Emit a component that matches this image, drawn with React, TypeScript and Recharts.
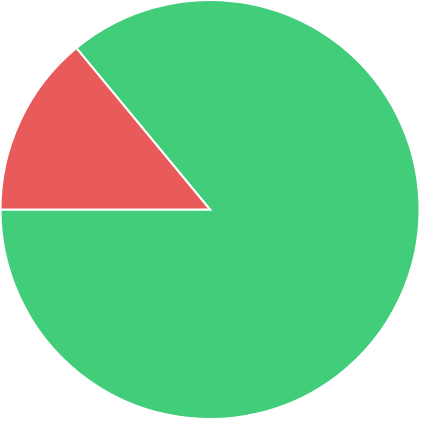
import React from 'react';
import { PieChart, Pie, Cell } from 'recharts';

const labels = ['Green', 'Red'];
const values = [86, 14];
const colors = ['#41cd7a', '#e85b5a'];

const data = labels.map((name, i) => ({ name, value: values[i] }));

export default function App() {
  return (
    <div style={{ position: 'absolute', left: 0, top: 0, width: 422, height: 421 }}>
      <PieChart width={422} height={421} margin={{ top: 0, right: 0, bottom: 0, left: 0 }}>
        <Pie
          data={data}
          dataKey="value"
          nameKey="name"
          cx={210}
          cy={209.5}
          outerRadius={209.5}
          startAngle={180}
          endAngle={540}
          stroke="#ffffff"
          strokeWidth={2}
          isAnimationActive={false}
        >
          {data.map((d, i) => (
            <Cell key={d.name} fill={colors[i]} />
          ))}
        </Pie>
      </PieChart>
    </div>
  );
}
